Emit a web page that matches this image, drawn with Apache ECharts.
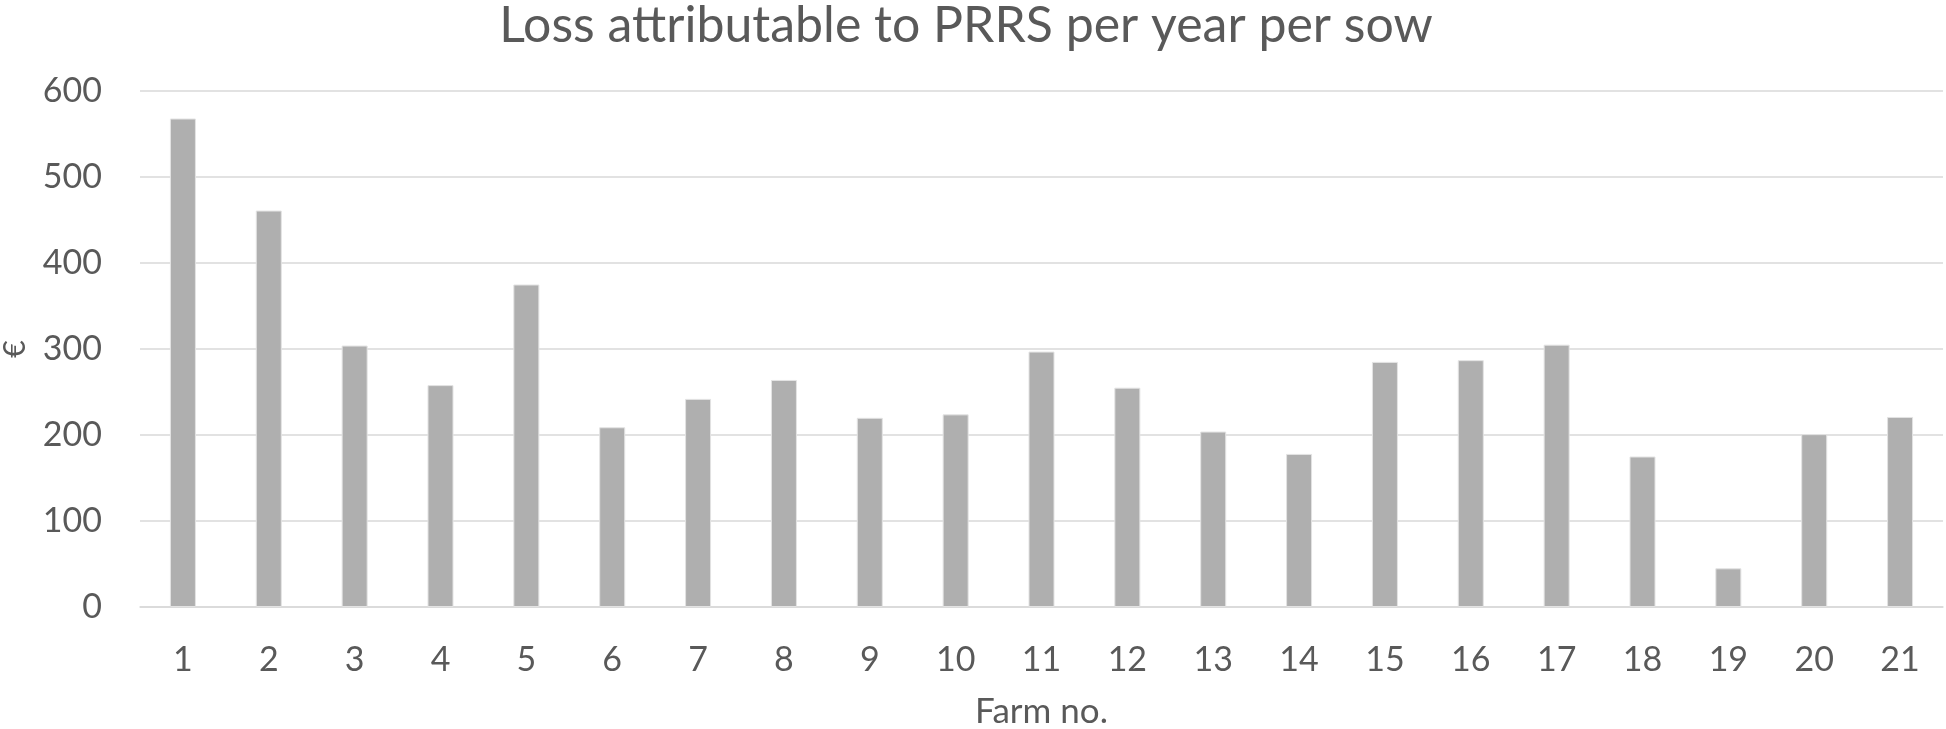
<!DOCTYPE html>
<html>
<head>
<meta charset="utf-8">
<script src="https://cdn.jsdelivr.net/npm/echarts@6/dist/echarts.min.js"></script>
<style>
  html, body { margin: 0; padding: 0; background: #fff; }
  #chart { width: 1946px; height: 729px; }
</style>
</head>
<body>
<div id="chart"></div>
<script>
// farm numbers on the x axis
const farms = ['1', '2', '3', '4', '5', '6', '7', '8', '9', '10', '11',
  '12', '13', '14', '15', '16', '17', '18', '19', '20', '21'];

// loss per year per sow, in euro
const loss = [568, 461, 304, 258, 375, 209, 242, 264, 220, 224, 297,
  255, 204, 178, 285, 287, 305, 175, 45, 201, 221];

const yTicks = { min: 0, max: 600, step: 100 };

const textColor = '#595959';
const font = 'Lato';

const chart = echarts.init(document.getElementById('chart'), null, { renderer: 'canvas' });

chart.setOption({
  animation: false,
  backgroundColor: '#ffffff',
  title: {
    text: 'Loss attributable to PRRS per year per sow',
    left: 961,
    top: -4,
    textAlign: 'center',
    textStyle: { color: textColor, fontFamily: font, fontSize: 50, fontWeight: 'normal' }
  },
  grid: { left: 140, right: 3, top: 91, bottom: 122, outerBoundsMode: 'none' },
  xAxis: {
    type: 'category',
    data: farms,
    name: 'Farm no.',
    nameLocation: 'middle',
    nameGap: 87,
    nameTextStyle: { color: textColor, fontFamily: font, fontSize: 35 },
    axisLine: { lineStyle: { color: '#d9d9d9', width: 1.5 } },
    axisTick: { show: false },
    axisLabel: { color: textColor, fontFamily: font, fontSize: 34, margin: 36 }
  },
  yAxis: {
    type: 'value',
    min: yTicks.min,
    max: yTicks.max,
    interval: yTicks.step,
    name: '€',
    nameLocation: 'middle',
    nameRotate: 90,
    nameGap: 110,
    nameTextStyle: { color: textColor, fontFamily: font, fontSize: 30 },
    axisLine: { show: false },
    axisTick: { show: false },
    axisLabel: { color: textColor, fontFamily: font, fontSize: 34, margin: 38 },
    splitLine: { lineStyle: { color: '#d9d9d9', width: 1.5 } }
  },
  series: [{
    type: 'bar',
    data: loss,
    barWidth: 26,
    itemStyle: { color: '#afafaf', borderColor: '#e3e3e3', borderWidth: 1 }
  }]
});
</script>
</body>
</html>
